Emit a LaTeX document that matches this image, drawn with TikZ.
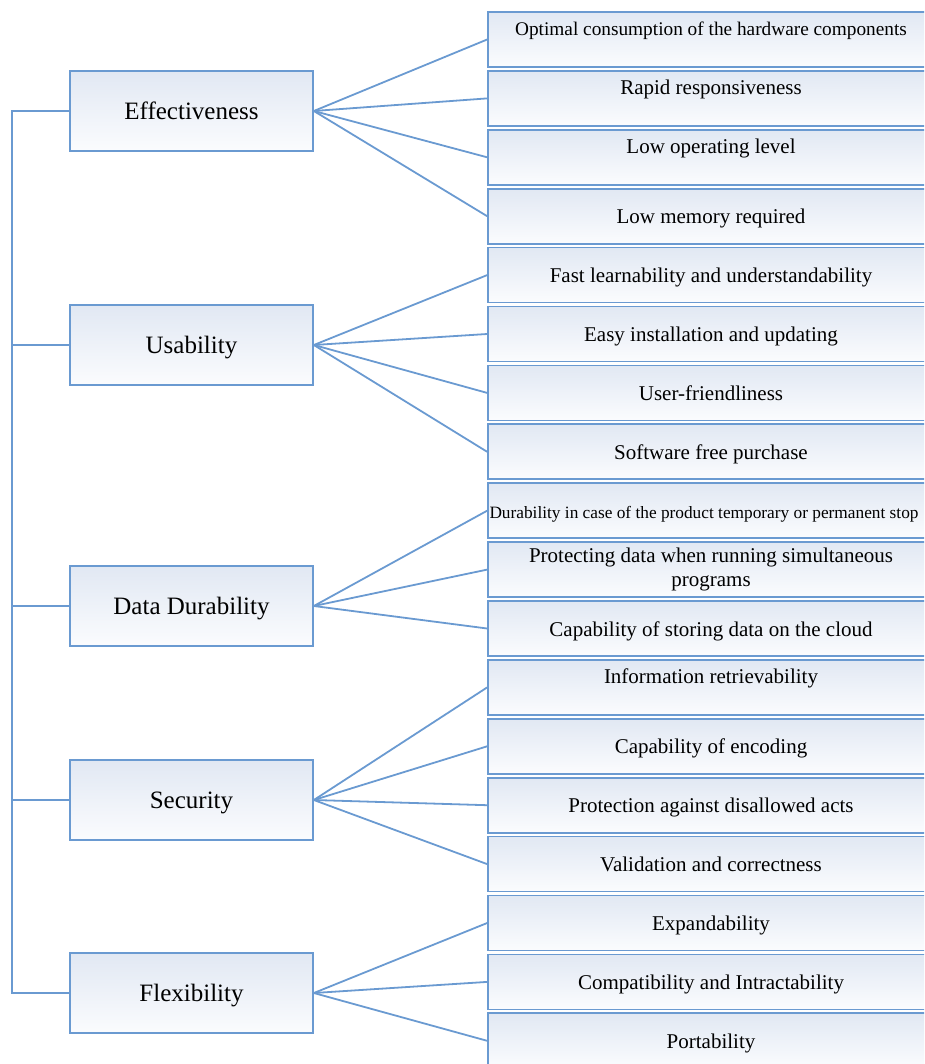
\documentclass[tikz,border=0pt]{standalone}
\usepackage{fontspec}
\setmainfont{Liberation Serif}
\usepackage{tikz}

\definecolor{linkblue}{HTML}{6A9AD1}
\definecolor{boxtop}{HTML}{E1E8F3}
\definecolor{boxbottom}{HTML}{FBFCFE}

\begin{document}
\begin{tikzpicture}[
    x=1pt, y=-1pt,
    group/.style={rectangle, draw=linkblue, line width=1.7pt, top color=boxtop, bottom color=boxbottom,
      minimum width=243pt, minimum height=80pt, inner sep=0pt, text height=17pt, text depth=0pt,
      font=\fontsize{25}{30}\selectfont},
    leaf/.style={rectangle, draw=linkblue, line width=1.7pt, top color=boxtop, bottom color=boxbottom,
      minimum width=446pt, minimum height=55pt, inner sep=2pt, align=center, text height=15pt, text depth=0pt,
      font=\fontsize{21}{24}\selectfont},
    raised/.style={text depth=22pt},
    link/.style={draw=linkblue, line width=1.8pt}
  ]
  \path[use as bounding box, clip] (0,0) rectangle (924,1064);

  % Main characteristics
  \node[group] (eff) at (191.5,111) {Effectiveness};
  \node[group] (use) at (191.5,345) {Usability};
  \node[group] (dur) at (191.5,606) {Data Durability};
  \node[group] (sec) at (191.5,800) {Security};
  \node[group] (flex) at (191.5,993) {Flexibility};

  % Sub-characteristics
  \node[leaf, raised, font=\fontsize{19.3}{22}\selectfont] (e1) at (711,39.5) {Optimal consumption of the hardware components};
  \node[leaf, raised] (e2) at (711,98.4) {Rapid responsiveness};
  \node[leaf, raised] (e3) at (711,157.3) {Low operating level};
  \node[leaf] (e4) at (711,216.2) {Low memory required};
  \node[leaf] (u1) at (711,275.1) {Fast learnability and understandability};
  \node[leaf] (u2) at (711,334) {Easy installation and updating};
  \node[leaf] (u3) at (711,392.9) {User-friendliness};
  \node[leaf] (u4) at (711,451.8) {Software free purchase};
  \node[leaf, inner xsep=0pt, font=\fontsize{17.3}{20}\selectfont] (d1) at (711,510.7) {Durability in case of the product temporary or permanent stop\kern14pt};
  \node[leaf, text height=, text depth=] (d2) at (711,569.6) {Protecting data when running simultaneous\\programs};
  \node[leaf] (d3) at (711,628.5) {Capability of storing data on the cloud};
  \node[leaf, raised] (s1) at (711,687.4) {Information retrievability};
  \node[leaf] (s2) at (711,746.3) {Capability of encoding};
  \node[leaf] (s3) at (711,805.2) {Protection against disallowed acts};
  \node[leaf] (s4) at (711,864.1) {Validation and correctness};
  \node[leaf] (f1) at (711,923) {Expandability};
  \node[leaf] (f2) at (711,981.9) {Compatibility and Intractability};
  \node[leaf] (f3) at (711,1040.8) {Portability};

  % Trunk joining the main characteristics
  \coordinate (trunk) at (12,0);
  \draw[link] (eff.west) -- (eff.west -| trunk) -- (flex.west -| trunk) -- (flex.west);
  \draw[link] (use.west) -- (use.west -| trunk);
  \draw[link] (dur.west) -- (dur.west -| trunk);
  \draw[link] (sec.west) -- (sec.west -| trunk);

  % Fans to the sub-characteristics
  \draw[link] (eff.east) -- (e1.west);
  \draw[link] (eff.east) -- (e2.west);
  \draw[link] (eff.east) -- (e3.west);
  \draw[link] (eff.east) -- (e4.west);
  \draw[link] (use.east) -- (u1.west);
  \draw[link] (use.east) -- (u2.west);
  \draw[link] (use.east) -- (u3.west);
  \draw[link] (use.east) -- (u4.west);
  \draw[link] (dur.east) -- (d1.west);
  \draw[link] (dur.east) -- (d2.west);
  \draw[link] (dur.east) -- (d3.west);
  \draw[link] (sec.east) -- (s1.west);
  \draw[link] (sec.east) -- (s2.west);
  \draw[link] (sec.east) -- (s3.west);
  \draw[link] (sec.east) -- (s4.west);
  \draw[link] (flex.east) -- (f1.west);
  \draw[link] (flex.east) -- (f2.west);
  \draw[link] (flex.east) -- (f3.west);
\end{tikzpicture}
\end{document}
